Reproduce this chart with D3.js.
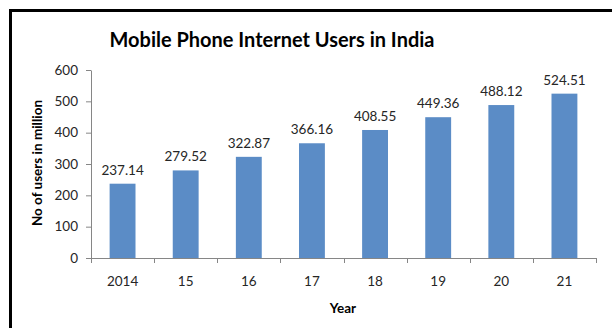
<!DOCTYPE html>
<html>
<head>
<meta charset="utf-8">
<script src="https://cdn.jsdelivr.net/npm/d3@7"></script>
<style>
  html, body { margin: 0; padding: 0; background: #fff; }
  svg { display: block; }
</style>
</head>
<body>
<script>
// Mobile phone internet users in India, by year (millions)
const years = ["2014", "15", "16", "17", "18", "19", "20", "21"];
const users = [237.14, 279.52, 322.87, 366.16, 408.55, 449.36, 488.12, 524.51];
const yTicks = [0, 100, 200, 300, 400, 500, 600];

const W = 612, H = 328;
const margin = { left: 91, right: 16, top: 70, bottom: 70 };
const font = "Lato, 'Open Sans', 'DejaVu Sans', sans-serif";
const fs = 13.5;

const svg = d3.select("body").append("svg")
  .attr("width", W).attr("height", H);

// Chart frame
svg.append("path")
  .attr("d", `M10.5,${H + 5} V10.5 H${W + 5}`)
  .attr("fill", "none")
  .attr("stroke", "#000")
  .attr("stroke-width", 3);

const x = d3.scaleBand()
  .domain(years)
  .range([margin.left, W - margin.right])
  .paddingInner(0.59)
  .paddingOuter(0.295);

const y = d3.scaleLinear()
  .domain([0, 600])
  .range([H - margin.bottom, margin.top]);

const axisColor = "#868686";
const textColor = "#262626";

// Bars
svg.append("g").selectAll("rect")
  .data(users)
  .join("rect")
  .attr("x", (d, i) => x(years[i]))
  .attr("y", d => y(d))
  .attr("width", x.bandwidth())
  .attr("height", d => y(0) - y(d))
  .attr("fill", "#5B8CC6");

// Value labels
svg.append("g").selectAll("text")
  .data(users)
  .join("text")
  .attr("x", (d, i) => x(years[i]) + x.bandwidth() / 2)
  .attr("y", d => y(d) - 9)
  .attr("text-anchor", "middle")
  .attr("font-family", font)
  .attr("font-size", fs)
  .attr("fill", textColor)
  .text(d => d.toFixed(2));

// Y axis
const yAxis = svg.append("g")
  .attr("transform", `translate(${margin.left},0)`)
  .call(d3.axisLeft(y).tickValues(yTicks).tickSize(5).tickPadding(8).tickSizeOuter(0));
yAxis.select(".domain").attr("stroke", axisColor);
yAxis.selectAll(".tick line").attr("stroke", axisColor);
yAxis.selectAll(".tick text")
  .attr("font-family", font).attr("font-size", fs).attr("fill", textColor);

// X axis with tick marks between categories
const x0 = y(0);
const xAxis = svg.append("g");
xAxis.append("line")
  .attr("x1", margin.left).attr("x2", W - margin.right)
  .attr("y1", x0 + 0.5).attr("y2", x0 + 0.5)
  .attr("stroke", axisColor);
const step = x.step();
const bounds = d3.range(years.length + 1).map(i => margin.left + i * step);
xAxis.selectAll(".sep")
  .data(bounds)
  .join("line")
  .attr("x1", d => Math.round(d) + 0.5).attr("x2", d => Math.round(d) + 0.5)
  .attr("y1", x0).attr("y2", x0 + 5)
  .attr("stroke", axisColor);
xAxis.selectAll("text")
  .data(years)
  .join("text")
  .attr("x", d => x(d) + x.bandwidth() / 2)
  .attr("y", x0 + 28)
  .attr("text-anchor", "middle")
  .attr("font-family", font)
  .attr("font-size", fs)
  .attr("fill", textColor)
  .text(d => d);

// Titles
const title = svg.append("text")
  .attr("x", 272).attr("y", 47)
  .attr("text-anchor", "middle")
  .attr("font-family", font)
  .attr("font-weight", "bold")
  .attr("font-size", 24)
  .attr("fill", "#000")
  .text("Mobile Phone Internet Users in India");
// keep the title within its 325px slot
const tw = title.node().getComputedTextLength();
if (tw > 325) title.attr("font-size", 24 * 325 / tw);

svg.append("text")
  .attr("x", 343).attr("y", 313)
  .attr("text-anchor", "middle")
  .attr("font-family", font)
  .attr("font-weight", "bold")
  .attr("font-size", fs)
  .attr("fill", "#000")
  .text("Year");

svg.append("text")
  .attr("transform", `translate(42,163) rotate(-90)`)
  .attr("text-anchor", "middle")
  .attr("font-family", font)
  .attr("font-weight", "bold")
  .attr("font-size", fs)
  .attr("fill", "#000")
  .text("No of users in million");
</script>
</body>
</html>
